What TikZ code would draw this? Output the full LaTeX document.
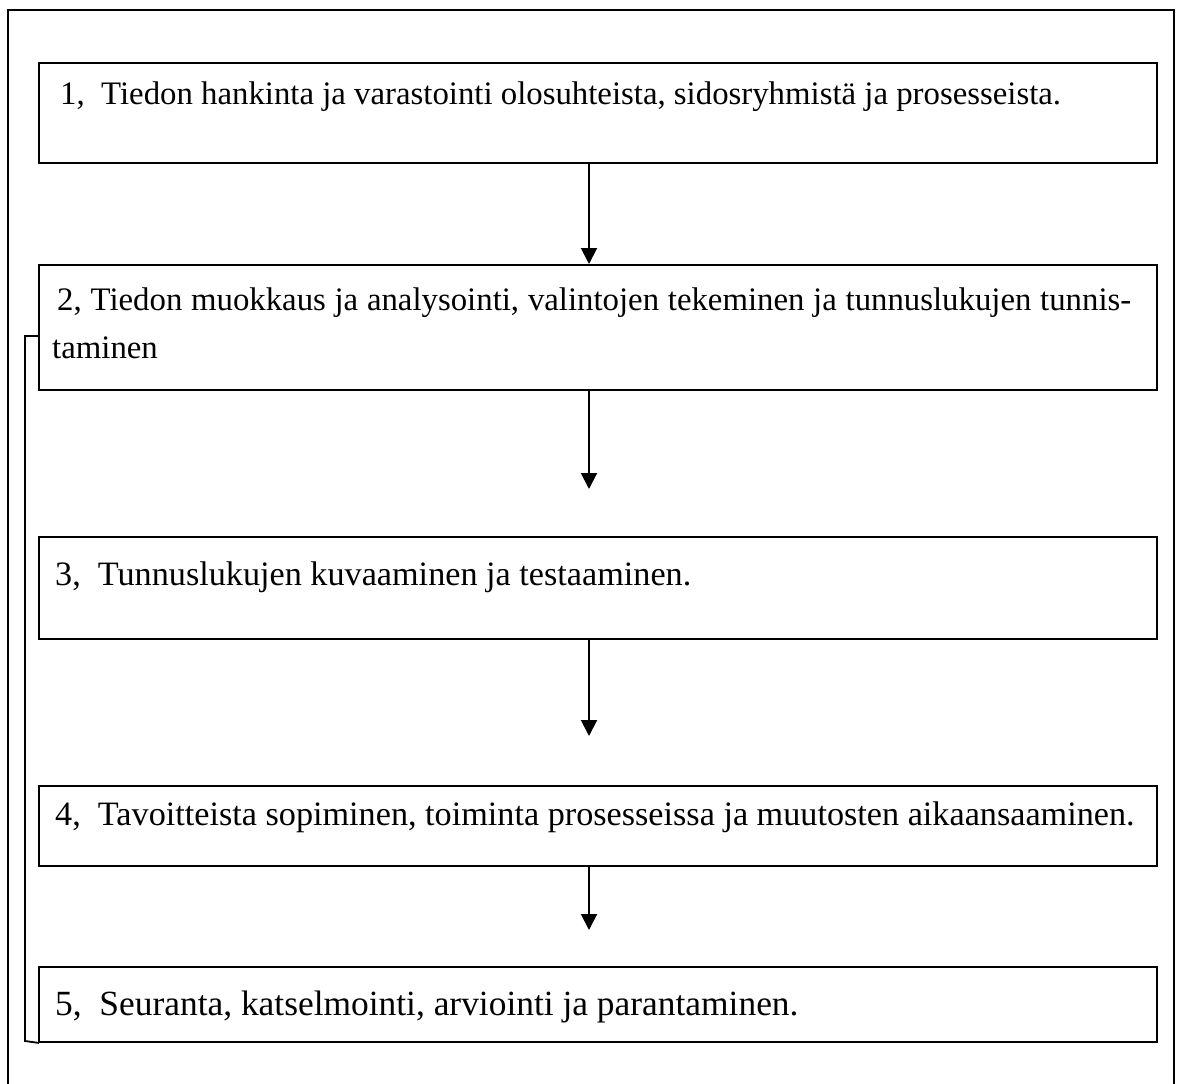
\documentclass[tikz,border=0pt]{standalone}
\usepackage{fontspec}
\setmainfont{Liberation Serif}
\usetikzlibrary{arrows.meta}
\begin{document}
\begin{tikzpicture}[x=1pt,y=-1pt,
  frame/.style={line width=1.8pt,line cap=rect},
  stepbox/.style={draw,line width=1.8pt,anchor=north west,inner sep=0pt,
    minimum width=1118pt},
  label/.style={anchor=base west,inner sep=0pt,
    font=\fontsize{32.8}{46}\selectfont},
  biglabel/.style={label,font=\fontsize{34.2}{46}\selectfont},
  arr/.style={line width=2pt,-{Triangle[width=16pt,length=16pt]}}]
  \useasboundingbox (0,0) rectangle (1181,1084);
  % outer frame, open at the bottom
  \draw[frame] (8,1084) -- (8,10) -- (1174,10) -- (1174,1084);
  % process steps
  \node[stepbox,minimum height=100pt] (b1) at (38,62) {};
  \node[stepbox,minimum height=125pt] (b2) at (38,264) {};
  \node[stepbox,minimum height=102pt] (b3) at (38,536) {};
  \node[stepbox,minimum height=80pt]  (b4) at (38,785) {};
  \node[stepbox,minimum height=75pt]  (b5) at (38,966) {};
  % texts
  \node[label] (t1) at (60,104) {1,\ \ Tiedon hankinta ja varastointi olosuhteista, sidosryhmistä ja prosesseista.};
  \node[label] (t2a) at (57,310) {\makebox[1074pt][s]{2, Tiedon muokkaus ja analysointi, valintojen tekeminen ja tunnuslukujen tunnis-}};
  \node[label] (t2b) at (52,358) {taminen};
  \node[biglabel] (t3) at (55,585) {3,\ \ Tunnuslukujen kuvaaminen ja testaaminen.};
  \node[biglabel] (t4) at (55,825) {4,\ \ Tavoitteista sopiminen, toiminta prosesseissa ja muutosten aikaansaaminen.};
  \node[biglabel,font=\fontsize{35.4}{46}\selectfont] (t5) at (55,1015) {5,\ \ Seuranta, katselmointi, arviointi ja parantaminen.};
  % arrows between the steps
  \coordinate (a1) at (589,162);
  \coordinate (a2) at (589,389);
  \coordinate (a3) at (589,638);
  \coordinate (a4) at (589,865);
  \draw[arr] (a1) -- (a1 |- b2.north);
  \draw[arr] (a2) -- (589,489);
  \draw[arr] (a3) -- (589,736);
  \draw[arr] (a4) -- (589,930);
  % feedback line from step 5 back to step 2
  \coordinate (fb) at (38,336);
  \draw[frame] (fb) -- (25,336) -- (25,1041) -- (b5.south west);
\end{tikzpicture}
\end{document}
